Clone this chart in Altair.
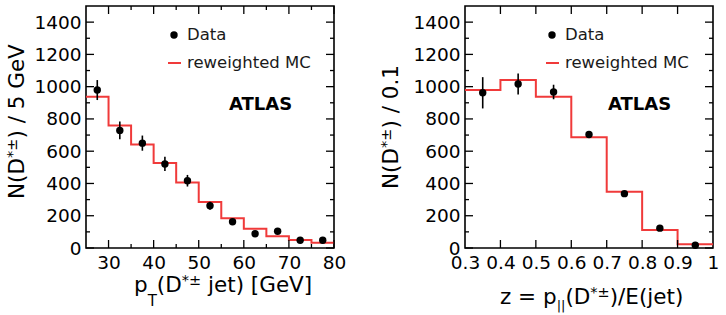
import altair as alt
import pandas as pd

# ---------------- data ----------------
pt_edges = [25, 30, 35, 40, 45, 50, 55, 60, 65, 70, 75, 80]
pt_centers = [27.5, 32.5, 37.5, 42.5, 47.5, 52.5, 57.5, 62.5, 67.5, 72.5, 77.5]
pt_data = [979, 729, 650, 521, 417, 262, 163, 88, 104, 48, 48]
pt_err = [62, 55, 47, 44, 36, 25, 17, 12, 12, 9, 9]
pt_mc = [937, 760, 642, 527, 406, 285, 185, 119, 73, 50, 33]

z_edges = [0.3, 0.4, 0.5, 0.6, 0.7, 0.8, 0.9, 1.0]
z_centers = [0.35, 0.45, 0.55, 0.65, 0.75, 0.85, 0.95]
z_data = [962, 1017, 967, 704, 337, 123, 17]
z_err = [97, 65, 45, 16, 12, 9, 6]
z_mc = [979, 1042, 937, 687, 348, 112, 23]

y_major = [0, 200, 400, 600, 800, 1000, 1200, 1400]
y_minor = [100, 300, 500, 700, 900, 1100, 1300]
pt_major = [30, 40, 50, 60, 70, 80]
pt_minor = [35, 45, 55, 65, 75]
pt_labels = [30, 40, 50, 60, 70, 80]
z_major = [0.4, 0.5, 0.6, 0.7, 0.8, 0.9]
z_labels = [0.3, 0.4, 0.5, 0.6, 0.7, 0.8, 0.9, 1.0]

W, H = 248, 242
FONT = "DejaVu Sans"
RED = "#f03a3a"
F_T = 21.5   # title font size
F_S = 14.5   # script size

# DejaVu Sans advance widths (em)
CW = {' ': .318, '(': .390, ')': .390, '*': .500, '/': .337, '.': .318, '=': .838,
      '[': .390, ']': .390, '|': .337, '±': .838, 'D': .770, 'E': .632, 'G': .775,
      'N': .748, 'T': .611, 'V': .684, 'e': .615, 'j': .278, 'p': .635, 't': .392,
      'z': .525}
for d in '0123456789':
    CW[d] = .636


def tw(s, fs):
    return sum(CW.get(c, .6) for c in s) * fs


one = pd.DataFrame({"k": [0]})


def rich(parts, x0, y0, rotated=False):
    layers = []
    pos = 0.0
    for t, fs, sh in parts:
        lead = len(t) - len(t.lstrip(" "))
        pos += tw(" " * lead, fs)
        t = t.strip(" ")
        if rotated:
            m = alt.Chart(one).mark_text(
                text=t, font=FONT, fontSize=fs, color="black", angle=270,
                align="left", baseline="alphabetic", x=x0 - sh, y=y0 - pos)
        else:
            m = alt.Chart(one).mark_text(
                text=t, font=FONT, fontSize=fs, color="black",
                align="left", baseline="alphabetic", x=x0 + pos, y=y0 - sh)
        layers.append(m.encode(opacity=alt.value(1)))
        pos += tw(t, fs)
    return layers


def panel(edges, centers, data, err, mc, xdom, xmajor, xminor, xlabels,
          label_expr, xtitle, xt_pos, ytitle, yt_pos, leg_dx):
    xs = alt.Scale(domain=xdom, nice=False, zero=False)
    ys = alt.Scale(domain=[0, 1500], nice=False)

    step_df = pd.DataFrame({"x": edges, "y": mc + [mc[-1]]})
    pts_df = pd.DataFrame({"x": centers, "y": data,
                           "lo": [a - b for a, b in zip(data, err)],
                           "hi": [a + b for a, b in zip(data, err)]})

    xaxis = alt.Axis(values=xlabels, title=None, grid=False, domain=False, ticks=False,
                     labelPadding=5, labelFlush=False, labelOverlap=False,
                     labelExpr=label_expr, labelFont=FONT, labelFontSize=18.5,
                     labelColor="black")
    yaxis = alt.Axis(values=y_major, title=None, grid=False, domain=False, ticks=False,
                     labelPadding=5, labelFont=FONT, labelFontSize=18.5, format="d",
                     labelColor="black", labelOverlap=False)

    mc_line = alt.Chart(step_df).mark_line(
        interpolate="step-after", color=RED, strokeWidth=2
    ).encode(x=alt.X("x:Q", scale=xs, axis=xaxis),
             y=alt.Y("y:Q", scale=ys, axis=yaxis))

    bars = alt.Chart(pts_df).mark_rule(color="black", strokeWidth=1.6).encode(
        x=alt.X("x:Q", scale=xs, axis=None),
        y=alt.Y("lo:Q", scale=ys, axis=None), y2="hi:Q")
    dots = alt.Chart(pts_df).mark_circle(color="black", opacity=1, size=55).encode(
        x=alt.X("x:Q", scale=xs, axis=None),
        y=alt.Y("y:Q", scale=ys, axis=None))

    tick_layers = []
    for vals, ln in ((y_major, 8), (y_minor, 4)):
        df = pd.DataFrame({"v": vals})
        tick_layers.append(alt.Chart(df).mark_rule(color="black", strokeWidth=1.3).encode(
            y=alt.Y("v:Q", scale=ys, axis=None), x=alt.value(0), x2=alt.value(ln)))
        tick_layers.append(alt.Chart(df).mark_rule(color="black", strokeWidth=1.3).encode(
            y=alt.Y("v:Q", scale=ys, axis=None), x=alt.value(W), x2=alt.value(W - ln)))
    for vals, ln in ((xmajor, 8), (xminor, 4)):
        if not vals:
            continue
        df = pd.DataFrame({"v": vals})
        tick_layers.append(alt.Chart(df).mark_rule(color="black", strokeWidth=1.3).encode(
            x=alt.X("v:Q", scale=xs, axis=None), y=alt.value(H), y2=alt.value(H - ln)))
        tick_layers.append(alt.Chart(df).mark_rule(color="black", strokeWidth=1.3).encode(
            x=alt.X("v:Q", scale=xs, axis=None), y=alt.value(0), y2=alt.value(ln)))

    leg = [
        alt.Chart(one).mark_circle(color="black", opacity=1, size=55).encode(
            x=alt.value(88 + leg_dx), y=alt.value(29)),
        alt.Chart(one).mark_text(text="Data", font=FONT, fontSize=16.5, color="#1a1a1a",
                                 align="left", baseline="middle").encode(
            x=alt.value(101 + leg_dx), y=alt.value(29)),
        alt.Chart(one).mark_rule(color=RED, strokeWidth=2).encode(
            x=alt.value(82 + leg_dx), x2=alt.value(95 + leg_dx), y=alt.value(57)),
        alt.Chart(one).mark_text(text="reweighted MC", font=FONT, fontSize=16.5,
                                 color="#1a1a1a", align="left", baseline="middle").encode(
            x=alt.value(101 + leg_dx), y=alt.value(57)),
        alt.Chart(one).mark_text(text="ATLAS", font=FONT, fontSize=18, fontWeight="bold",
                                 color="black", align="left", baseline="middle").encode(
            x=alt.value(143), y=alt.value(99)),
    ]

    texts = rich(xtitle, xt_pos[0], xt_pos[1]) + rich(ytitle, yt_pos[0], yt_pos[1], rotated=True)

    return alt.layer(mc_line, bars, dots, *tick_layers, *leg, *texts).resolve_axis(
        x="independent", y="independent").properties(width=W, height=H)


left = panel(
    pt_edges, pt_centers, pt_data, pt_err, pt_mc, [25, 80], pt_major, pt_minor,
    pt_labels, "format(datum.value, 'd')",
    [("p", F_T, 0), ("T", 15, -14), ("(D", F_T, 0), ("*±", F_S, 7), (" jet) [GeV]", F_T, 0)],
    (48, 286),
    [("N(D", F_T, 0), ("*±", F_S, 7), (") / 5 GeV", F_T, 0)],
    (-62, 193), 0)

right = panel(
    z_edges, z_centers, z_data, z_err, z_mc, [0.3, 1.0], z_major, [],
    z_labels, "datum.value >= 0.999 ? '1' : format(datum.value, '.1f')",
    [("z = p", F_T, 0), ("||", 13, -6), ("(D", F_T, 0), ("*±", F_S, 7), (")/E(jet)", F_T, 0)],
    (35, 298),
    [("N(D", F_T, 0), ("*±", F_S, 7), (") / 0.1", F_T, 0)],
    (-67, 183), -1)

chart = alt.hconcat(left, right, spacing=31).properties(
    padding={"left": 4, "top": 4, "right": 0, "bottom": 0}
).configure_view(stroke="black", strokeWidth=1.6)

chart.save("out.html", embed_options={"renderer": "svg", "actions": False})
